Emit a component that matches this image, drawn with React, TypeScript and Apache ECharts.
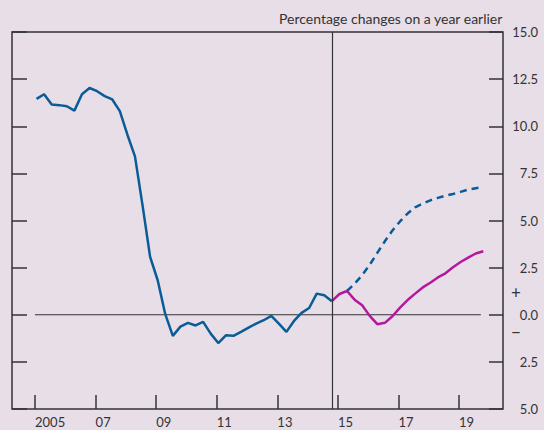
import React, { useEffect, useRef } from "react";
import * as echarts from "echarts";

// Quarterly CPI inflation (per cent, on a year earlier)
const histStart = 2005.05;
const cpiHistory = [
  11.45, 11.7, 11.15, 11.12, 11.06, 10.83, 11.7, 12.03, 11.86, 11.6,
  11.42, 10.8, 9.55, 8.4, 5.8, 3.07, 1.83, 0.03, -1.12, -0.63,
  -0.43, -0.57, -0.38, -1.0, -1.5, -1.09, -1.12, -0.91, -0.68, -0.47,
  -0.29, -0.06, -0.47, -0.91, -0.33, 0.1, 0.36, 1.12, 1.03, 0.72,
];
const magentaStart = 2014.8;
const projMagenta = [
  0.72, 1.1, 1.26, 0.8, 0.5, -0.06, -0.5, -0.43, -0.08, 0.38, 0.78,
  1.12, 1.45, 1.7, 1.98, 2.2, 2.52, 2.8, 3.03, 3.25, 3.37,
];
const dashedStart = 2015.3;
const projDashed = [
  1.26, 1.64, 2.1, 2.65, 3.28, 3.9, 4.47, 4.95, 5.37, 5.7, 5.9, 6.07,
  6.2, 6.32, 6.41, 6.52, 6.64, 6.71, 6.78,
];
const xTickYears = [2005, 2007, 2009, 2011, 2013, 2015, 2017, 2019];
const xLabels = ["2005", "07", "09", "11", "13", "15", "17", "19"];
const splitYear = 2014.8;
const zeroLine = [
  [2005.0, 0],
  [2019.72, 0],
];
const titleText = "Percentage changes on a year earlier";

const FONT = "Lato";
const INK = "#333333";
const BLUE = "#0a5c96";
const MAGENTA = "#b4189c";
const BG = "#e8dee8";

function toPoints(start: number, vals: number[]) {
  return vals.map((v, i) => [start + 0.25 * i, v]);
}

export default function App() {
  const ref = useRef<HTMLDivElement>(null);
  useEffect(() => {
    if (!ref.current) return;
    const chart = echarts.init(ref.current, undefined, { renderer: "svg" });
    const yAxisCommon = {
      type: "value" as const,
      min: -5,
      max: 15,
      interval: 2.5,
      splitLine: { show: false },
      axisLine: { show: false, onZero: false },
      axisTick: {
        show: true,
        inside: true,
        length: 15,
        lineStyle: { color: INK, width: 1.5 },
      },
    };
    chart.setOption({
      animation: false,
      backgroundColor: BG,
      textStyle: { fontFamily: FONT },
      grid: {
        left: 12,
        right: 41,
        top: 32,
        bottom: 21,
        show: true,
        borderColor: INK,
        borderWidth: 1.5,
        backgroundColor: "transparent",
      },
      xAxis: {
        type: "value",
        min: 2004.24,
        max: 2020.45,
        position: "bottom",
        splitLine: { show: false },
        axisLine: { show: false, onZero: false },
        axisTick: {
          show: true,
          inside: true,
          length: 14,
          customValues: xTickYears,
          lineStyle: { color: INK, width: 1.5 },
        },
        axisLabel: {
          show: true,
          customValues: xTickYears,
          align: "left",
          margin: 6,
          color: INK,
          fontSize: 13,
          fontFamily: FONT,
          formatter: (v: number) => {
            const i = xTickYears.indexOf(Math.round(v));
            return i >= 0 ? xLabels[i] : "";
          },
        },
      },
      yAxis: [
        {
          ...yAxisCommon,
          position: "left",
          axisLabel: { show: false },
        },
        {
          ...yAxisCommon,
          position: "right",
          axisTick: { ...yAxisCommon.axisTick, length: 14 },
          axisLabel: {
            show: true,
            align: "right",
            margin: 35,
            color: INK,
            fontSize: 13,
            fontFamily: FONT,
            formatter: (v: number) => Math.abs(v).toFixed(1),
          },
        },
      ],
      graphic: [
        {
          type: "text",
          right: 41,
          top: 11,
          style: {
            text: titleText,
            fill: INK,
            font: `14px ${FONT}`,
          },
        },
        {
          type: "text",
          x: 516,
          y: 292,
          style: {
            text: "+",
            fill: INK,
            font: `17px ${FONT}`,
            align: "center",
            verticalAlign: "middle",
          },
        },
        {
          type: "text",
          x: 516,
          y: 331,
          style: {
            text: "\u2212",
            fill: INK,
            font: `17px ${FONT}`,
            align: "center",
            verticalAlign: "middle",
          },
        },
      ],
      series: [
        {
          type: "line",
          data: zeroLine,
          symbol: "none",
          silent: true,
          lineStyle: { color: INK, width: 1.2 },
          markLine: {
            silent: true,
            symbol: "none",
            label: { show: false },
            lineStyle: { color: INK, width: 1.2, type: "solid" },
            data: [{ xAxis: splitYear }],
          },
        },
        {
          type: "line",
          data: toPoints(dashedStart, projDashed),
          symbol: "none",
          lineStyle: { color: BLUE, width: 2.5, type: [7, 5] },
        },
        {
          type: "line",
          data: toPoints(magentaStart, projMagenta),
          symbol: "none",
          lineStyle: { color: MAGENTA, width: 2.5 },
        },
        {
          type: "line",
          data: toPoints(histStart, cpiHistory),
          symbol: "none",
          lineStyle: { color: BLUE, width: 2.5 },
        },
      ],
    });
    return () => chart.dispose();
  }, []);
  return (
    <div
      ref={ref}
      style={{ position: "fixed", left: 0, top: 0, width: 544, height: 430 }}
    />
  );
}
